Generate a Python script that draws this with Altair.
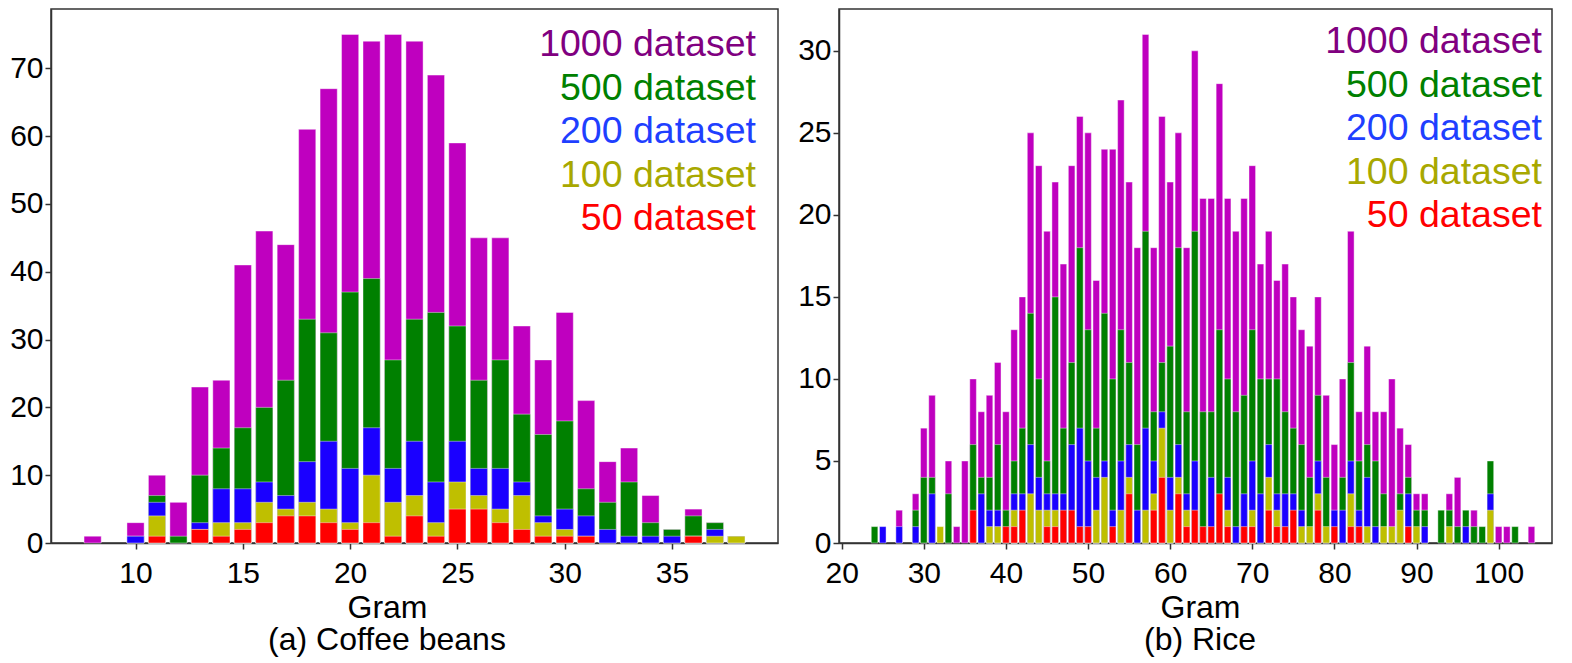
"""Histograms of weight per dataset size: coffee beans and rice"""

import pandas as pd
import altair as alt

FONT = "Liberation Sans"

DATASETS = ["1000 dataset", "500 dataset", "200 dataset", "100 dataset", "50 dataset"]
BAR_COLORS = ["#bf00bf", "#008000", "#1a00ff", "#bfbf00", "#ff0000"]
TEXT_COLORS = ["#800080", "#008000", "#1f3fff", "#a8a800", "#ff0000"]

# (a) Coffee beans, grams 8..38
coffee_gram = list(range(8, 39))
coffee_1000 = [1, 0, 3, 10, 6, 23, 24, 41, 46, 44, 61, 67, 75, 74, 75, 74,
               69, 59, 45, 45, 32, 27, 34, 21, 12, 14, 7, 2, 5, 3, 1]
coffee_500 = [0, 0, 1, 7, 1, 10, 14, 17, 20, 24, 33, 31, 37, 39, 27, 33,
              34, 32, 24, 27, 19, 16, 18, 8, 6, 9, 3, 2, 4, 3, 1]
coffee_200 = [0, 0, 1, 6, 0, 3, 8, 8, 9, 7, 12, 15, 11, 17, 11, 15,
              9, 15, 11, 11, 9, 4, 5, 4, 2, 1, 1, 1, 1, 2, 1]
coffee_100 = [0, 0, 0, 4, 0, 2, 3, 3, 6, 5, 6, 5, 3, 10, 6, 7,
              3, 9, 7, 5, 7, 3, 2, 1, 0, 0, 0, 0, 1, 1, 1]
coffee_50 = [0, 0, 0, 1, 0, 2, 1, 2, 3, 4, 4, 3, 2, 3, 1, 4,
             1, 5, 5, 3, 2, 1, 1, 1, 0, 0, 0, 0, 1, 0, 0]
coffee_x_ticks = [10, 15, 20, 25, 30, 35]
coffee_y_ticks = [0, 10, 20, 30, 40, 50, 60, 70]

# (b) Rice, grams 24..104
rice_gram = list(range(24, 105))
rice_1000 = [0, 0, 0, 2, 0, 3,
             7, 9, 0, 5, 1, 5, 10, 8, 9, 11,
             8, 13, 15, 25, 23, 19, 22, 17, 23, 26,
             25, 16, 24, 24, 27, 22, 18, 31, 18, 26,
             22, 25, 18, 30, 21, 21, 28, 21, 19, 21,
             23, 17, 19, 16, 17, 15, 13, 12, 15, 9,
             6, 10, 19, 8, 12, 8, 8, 10, 7, 6,
             3, 3, 0, 0, 3, 4, 0, 2, 0, 0,
             1, 1, 0, 0, 1]
rice_500 = [1, 0, 0, 0, 0, 2,
            4, 4, 0, 3, 0, 0, 6, 4, 4, 6,
            2, 5, 7, 14, 10, 5, 15, 7, 11, 18,
            13, 7, 14, 10, 13, 11, 6, 19, 8, 11,
            12, 18, 8, 19, 8, 8, 13, 10, 8, 9,
            13, 10, 10, 10, 8, 7, 6, 4, 9, 4,
            0, 4, 11, 5, 6, 5, 3, 0, 3, 4,
            2, 2, 0, 2, 2, 1, 2, 1, 1, 5,
            0, 0, 1, 0, 0]
rice_200 = [0, 1, 0, 1, 0, 1,
            0, 3, 0, 0, 0, 0, 0, 3, 2, 2,
            0, 3, 3, 6, 4, 3, 3, 3, 6, 7,
            5, 4, 5, 2, 5, 6, 2, 7, 5, 8,
            4, 6, 3, 5, 0, 4, 0, 4, 1, 3,
            5, 3, 6, 3, 3, 3, 2, 0, 5, 0,
            2, 2, 5, 2, 4, 1, 0, 0, 0, 3,
            0, 1, 0, 0, 0, 0, 1, 0, 0, 3,
            0, 0, 0, 0, 0]
rice_100 = [0, 0, 0, 0, 0, 0,
            0, 0, 1, 0, 0, 0, 0, 0, 1, 1,
            0, 2, 0, 3, 2, 2, 2, 0, 0, 0,
            0, 2, 4, 0, 2, 4, 0, 2, 3, 7,
            2, 4, 2, 0, 0, 0, 0, 2, 0, 0,
            2, 0, 4, 2, 0, 0, 1, 1, 3, 1,
            0, 0, 3, 0, 1, 0, 1, 1, 2, 0,
            1, 0, 0, 0, 1, 0, 0, 0, 0, 2,
            0, 0, 0, 0, 0]
rice_50 = [0, 0, 0, 0, 0, 0,
           0, 0, 0, 0, 0, 0, 2, 0, 0, 0,
           1, 1, 2, 0, 0, 1, 1, 2, 2, 1,
           1, 0, 0, 1, 0, 3, 0, 0, 2, 4,
           0, 3, 1, 2, 1, 1, 3, 1, 0, 1,
           1, 0, 2, 1, 1, 2, 0, 0, 2, 0,
           1, 0, 1, 1, 0, 0, 0, 0, 0, 1,
           0, 0, 0, 0, 0, 0, 0, 0, 0, 0,
           0, 0, 0, 0, 0]
rice_x_ticks = [20, 30, 40, 50, 60, 70, 80, 90, 100]
rice_y_ticks = [0, 5, 10, 15, 20, 25, 30]

PLOT_H = 534


def long_table(grams, series):
    """One row per visible bar, biggest dataset first so it is drawn behind."""
    rows = []
    for name, counts in zip(DATASETS, series):
        for g, c in zip(grams, counts):
            if c > 0:
                rows.append({"gram": g, "count": c, "dataset": name})
    return pd.DataFrame(rows)


def build_panel(df, x_domain, x_ticks, y_max, y_ticks, width, title_x, caption,
                legend_right, legend_top):
    bars = alt.Chart(df).transform_calculate(
        left="datum.gram - 0.4", right="datum.gram + 0.4"
    ).mark_bar(stroke="white", strokeWidth=0.6, strokeOpacity=0.7).encode(
        x=alt.X("left:Q",
                scale=alt.Scale(domain=x_domain, nice=False, zero=False),
                axis=alt.Axis(values=x_ticks, title="Gram", titleX=title_x, titleY=74,
                              titleAlign="center", titleBaseline="alphabetic")),
        x2="right:Q",
        y=alt.Y("count:Q", stack=None,
                scale=alt.Scale(domain=[0, y_max], nice=False),
                axis=alt.Axis(values=y_ticks, title=None)),
        y2=alt.datum(0),
        color=alt.Color("dataset:N",
                        scale=alt.Scale(domain=DATASETS, range=BAR_COLORS),
                        legend=None),
    )

    # coloured text legend in the upper right corner
    legend_layers = []
    for i, (name, col) in enumerate(zip(DATASETS, TEXT_COLORS)):
        legend_layers.append(
            alt.Chart(pd.DataFrame({"label": [name]})).mark_text(
                align="right", baseline="alphabetic", fontSize=37.5, font=FONT, color=col
            ).encode(
                text="label:N",
                x=alt.value(width - legend_right),
                y=alt.value(legend_top + 43.5 * i),
            )
        )

    caption_layer = alt.Chart(pd.DataFrame({"caption": [caption]})).mark_text(
        align="center", baseline="alphabetic", fontSize=32, font=FONT, color="black"
    ).encode(
        text="caption:N",
        x=alt.value(title_x),
        y=alt.value(PLOT_H + 107),
    )

    return alt.layer(bars, *legend_layers, caption_layer).properties(
        width=width, height=PLOT_H
    )


coffee_df = long_table(coffee_gram, [coffee_1000, coffee_500, coffee_200, coffee_100, coffee_50])
rice_df = long_table(rice_gram, [rice_1000, rice_500, rice_200, rice_100, rice_50])

coffee = build_panel(coffee_df, [6.06, 39.94], coffee_x_ticks, 78.75, coffee_y_ticks,
                     727, 336, "(a) Coffee beans", 22, 47)
rice = build_panel(rice_df, [19.67, 106.5], rice_x_ticks, 32.55, rice_y_ticks,
                   713, 361, "(b) Rice", 10, 44)

chart = alt.hconcat(coffee, rice, spacing=17).properties(
    padding=0
).configure_view(
    stroke="#333333", strokeWidth=1.5
).configure_axis(
    grid=False,
    domainColor="#333333", domainWidth=1.5,
    tickColor="#333333", tickWidth=1.5, tickSize=6,
    labelFont=FONT, labelFontSize=30, labelColor="black",
    titleFont=FONT, titleFontSize=32, titleFontWeight="normal", titleColor="black",
).configure_axisX(
    labelPadding=9
).configure_axisY(
    labelPadding=2
)

chart.save("out.html", embed_options={"renderer": "svg", "actions": False})
